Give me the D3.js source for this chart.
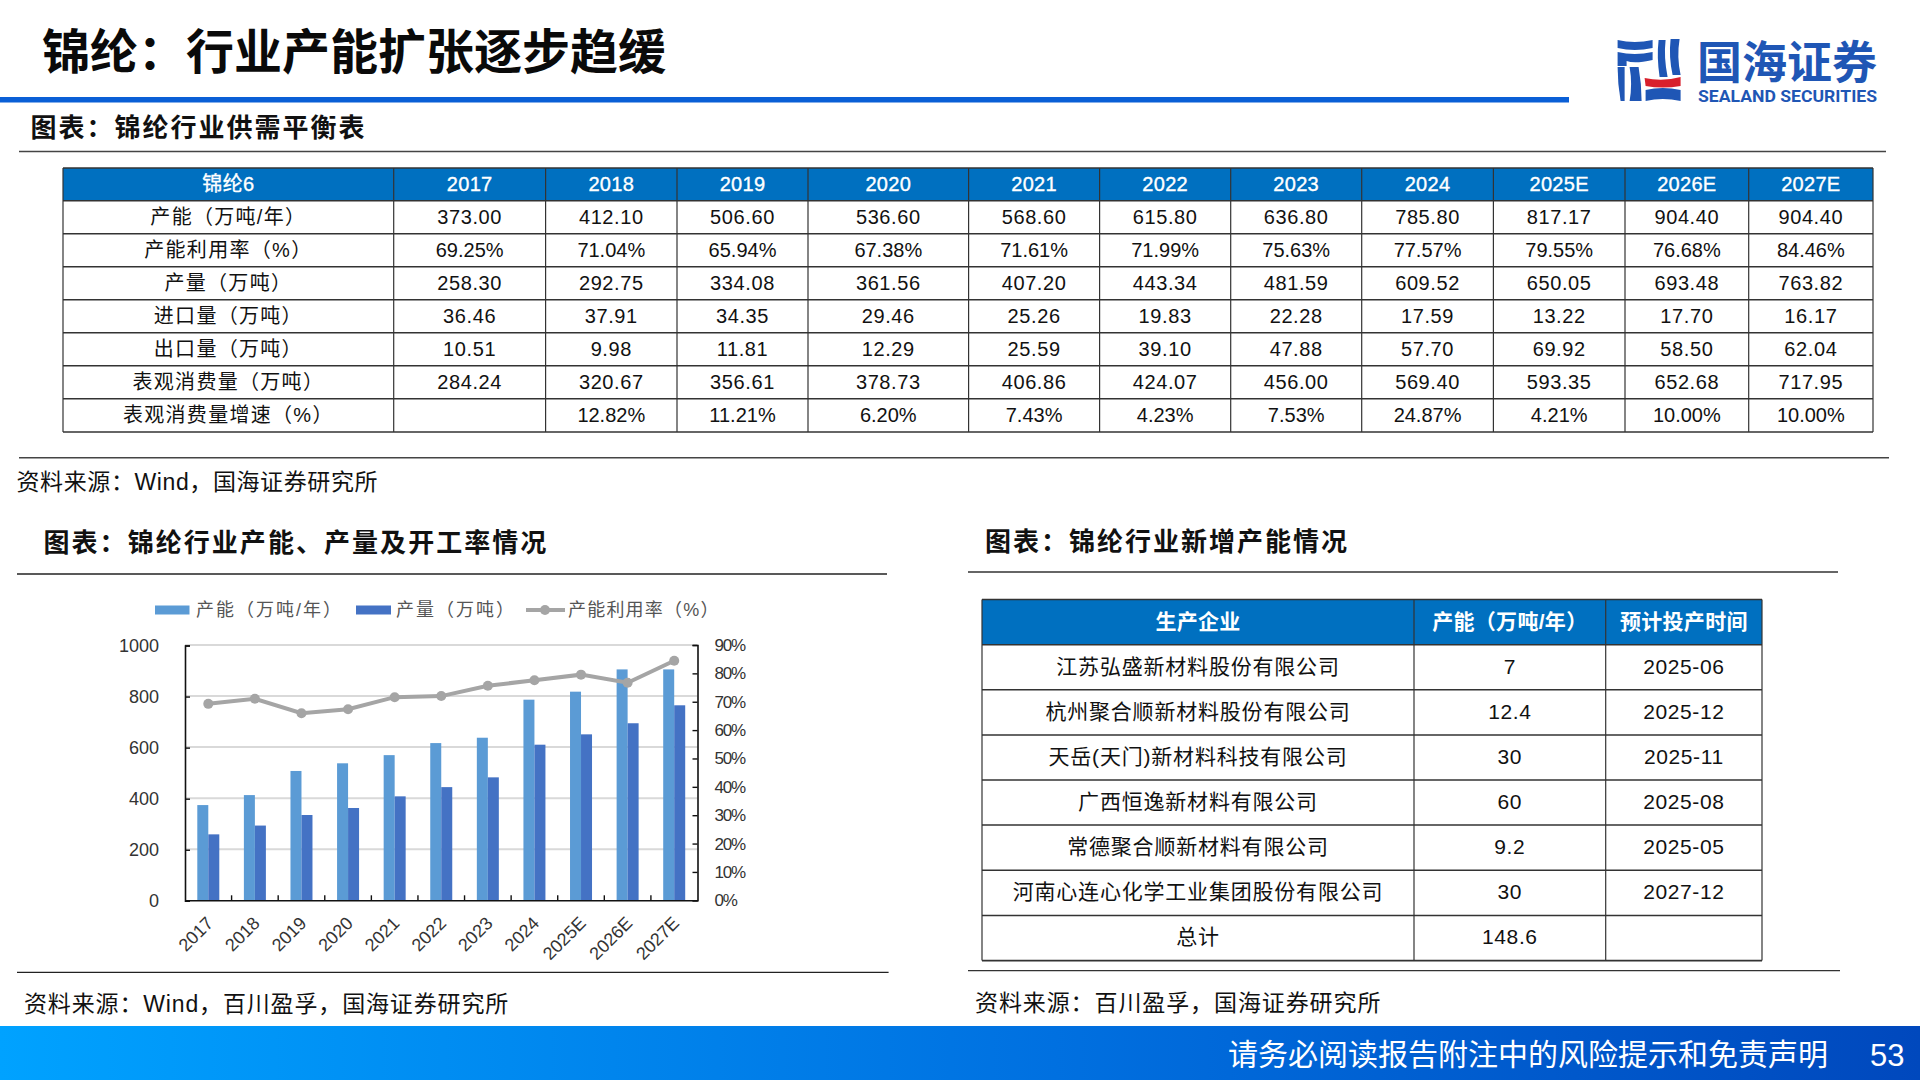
<!DOCTYPE html>
<html>
<head>
<meta charset="utf-8">
<script src="https://cdn.jsdelivr.net/npm/d3@7"></script>
<style>
  html, body { margin: 0; padding: 0; background: #fff; }
  svg { display: block; }
  text { font-family: "Liberation Sans", "Noto Sans CJK SC", sans-serif; }
</style>
</head>
<body>
<svg id="page" width="1920" height="1080"></svg>
<script>
var years = ['2017', '2018', '2019', '2020', '2021', '2022', '2023', '2024', '2025E', '2026E', '2027E'];
var rowNames = ['产能（万吨/年）', '产能利用率（%）', '产量（万吨）', '进口量（万吨）', '出口量（万吨）', '表观消费量（万吨）', '表观消费量增速（%）'];

var capacityText = ['373.00', '412.10', '506.60', '536.60', '568.60', '615.80', '636.80', '785.80', '817.17', '904.40', '904.40'];
var utilText = ['69.25%', '71.04%', '65.94%', '67.38%', '71.61%', '71.99%', '75.63%', '77.57%', '79.55%', '76.68%', '84.46%'];
var outputText = ['258.30', '292.75', '334.08', '361.56', '407.20', '443.34', '481.59', '609.52', '650.05', '693.48', '763.82'];
var importText = ['36.46', '37.91', '34.35', '29.46', '25.26', '19.83', '22.28', '17.59', '13.22', '17.70', '16.17'];
var exportText = ['10.51', '9.98', '11.81', '12.29', '25.59', '39.10', '47.88', '57.70', '69.92', '58.50', '62.04'];
var consumeText = ['284.24', '320.67', '356.61', '378.73', '406.86', '424.07', '456.00', '569.40', '593.35', '652.68', '717.95'];
var growthText = ['', '12.82%', '11.21%', '6.20%', '7.43%', '4.23%', '7.53%', '24.87%', '4.21%', '10.00%', '10.00%'];

var capacity = [373.00, 412.10, 506.60, 536.60, 568.60, 615.80, 636.80, 785.80, 817.17, 904.40, 904.40];
var output = [258.30, 292.75, 334.08, 361.56, 407.20, 443.34, 481.59, 609.52, 650.05, 693.48, 763.82];
var util = [69.25, 71.04, 65.94, 67.38, 71.61, 71.99, 75.63, 77.57, 79.55, 76.68, 84.46];
var leftTicks = [0, 200, 400, 600, 800, 1000];
var rightTicks = [0, 10, 20, 30, 40, 50, 60, 70, 80, 90];
var legendNames = ['产能（万吨/年）', '产量（万吨）', '产能利用率（%）'];

var companies = ['江苏弘盛新材料股份有限公司', '杭州聚合顺新材料股份有限公司', '天岳(天门)新材料科技有限公司', '广西恒逸新材料有限公司', '常德聚合顺新材料有限公司', '河南心连心化学工业集团股份有限公司', '总计'];
var newCapacity = ['7', '12.4', '30', '60', '9.2', '30', '148.6'];
var startDates = ['2025-06', '2025-12', '2025-11', '2025-08', '2025-05', '2027-12', ''];

var BLUE = '#0070c0';
var LINE = '#333';
var svg = d3.select('#page');

function label(x, y, str, size, opts) {
  opts = opts || {};
  return svg.append('text')
    .attr('x', x)
    .attr('y', y)
    .attr('dy', '0.35em')
    .attr('font-size', size)
    .attr('font-weight', opts.weight || 400)
    .attr('fill', opts.fill || '#111')
    .attr('letter-spacing', opts.spacing || 0)
    .attr('text-anchor', opts.anchor || 'start')
    .text(str);
}

function rule(x1, x2, y, color, w) {
  svg.append('line')
    .attr('x1', x1).attr('x2', x2)
    .attr('y1', y).attr('y2', y)
    .attr('stroke', color || '#444')
    .attr('stroke-width', w || 1.5);
}

// header strip and footer
var grad = svg.append('defs').append('linearGradient').attr('id', 'foot');
grad.append('stop').attr('offset', '0%').attr('stop-color', '#00a2ff');
grad.append('stop').attr('offset', '55%').attr('stop-color', '#0070e0');
grad.append('stop').attr('offset', '100%').attr('stop-color', '#0048bd');

label(42, 52, '锦纶：行业产能扩张逐步趋缓', 48, {weight: 700, fill: '#0a0a0a'});
svg.append('rect').attr('x', 0).attr('y', 97).attr('width', 1569).attr('height', 5.5).attr('fill', '#0a5fd6');
svg.append('rect').attr('x', 0).attr('y', 1026).attr('width', 1920).attr('height', 54).attr('fill', 'url(#foot)');
label(1228, 1054, '请务必阅读报告附注中的风险提示和免责声明', 30, {fill: '#fff'});
label(1870, 1055, '53', 31, {fill: '#fff'});

drawLogo(1617.6, 39);

function drawLogo(x, y) {
  var g = svg.append('g').attr('transform', 'translate(' + x + ',' + y + ')').attr('fill', '#1f56b5');
  var blueParts = [
    'M0 1Q17 5 35 1V9Q17 13 0 9Z',
    'M0 13Q17 17 35 13V21Q17 25 9 22V27H0Z',
    'M0 28H7V62H3Q0 45 0 28Z',
    'M12 28H21Q24 45 24 62H12Q15 45 12 28Z',
    'M41 1H48Q46 18 50 38H42Q39 18 41 1Z',
    'M53 0H62Q59 18 63 36H55Q51 18 53 0Z',
    'M28 51Q45 47 63 51V62Q45 58 28 62Z'
  ];
  g.selectAll('path').data(blueParts).enter().append('path').attr('d', function (d) { return d; });
  g.append('path').attr('d', 'M27 39Q45 43 63 38V47Q45 50 28 47Z').attr('fill', '#d8202c');
  svg.append('text').attr('x', 1697).attr('y', 79).attr('font-size', 45).attr('font-weight', 700).attr('fill', '#1f56b5')
    .text('国海证券');
  svg.append('text').attr('x', 1698).attr('y', 101.5).attr('font-size', 17).attr('font-weight', 700).attr('fill', '#1f56b5')
    .attr('textLength', 179).attr('lengthAdjust', 'spacingAndGlyphs')
    .style('font-family', 'Roboto, sans-serif')
    .text('SEALAND SECURITIES');
}

// draws a bordered table, cells come as rows of strings
function drawTable(colX, rowY, header, rows, o) {
  var g = svg.append('g');
  var x0 = colX[0], x1 = colX[colX.length - 1], y0 = rowY[0], y1 = rowY[rowY.length - 1];
  g.append('rect')
    .attr('x', x0).attr('y', y0)
    .attr('width', x1 - x0).attr('height', rowY[1] - y0)
    .attr('fill', BLUE);
  g.selectAll('line.h').data(rowY).enter().append('line')
    .attr('x1', x0).attr('x2', x1)
    .attr('y1', function (d) { return d; }).attr('y2', function (d) { return d; })
    .attr('stroke', LINE).attr('stroke-width', 1.6);
  g.selectAll('line.v').data(colX).enter().append('line')
    .attr('x1', function (d) { return d; }).attr('x2', function (d) { return d; })
    .attr('y1', y0).attr('y2', y1)
    .attr('stroke', LINE).attr('stroke-width', 1.2);
  header.forEach(function (str, i) {
    var t = label((colX[i] + colX[i + 1]) / 2, (rowY[0] + rowY[1]) / 2, str, o.size, {fill: '#fff', weight: o.headWeight, anchor: 'middle', spacing: 0.3});
    if (o.headWeight === 400) {
      t.attr('stroke', '#fff').attr('stroke-width', 0.35);
    }
  });
  rows.forEach(function (cells, r) {
    cells.forEach(function (str, i) {
      var sp = i === 0 ? o.nameSpacing : (/%$/.test(str) ? 0 : o.spacing);
      label((colX[i] + colX[i + 1]) / 2, (rowY[r + 1] + rowY[r + 2]) / 2 + o.shift, str, o.size, {anchor: 'middle', spacing: sp});
    });
  });
}

// supply-demand table
var mainCols = [63, 393.7, 545.6, 677, 808, 968.6, 1099.6, 1230.7, 1361.7, 1493.4, 1625, 1748.7, 1873];
var mainRows = d3.range(8).map(function (i) { return i === 0 ? 168 : 200.7 + (i - 1) * 33; });
mainRows.push(432);
var mainColumns = [capacityText, utilText, outputText, importText, exportText, consumeText, growthText];
drawTable(mainCols, mainRows, ['锦纶6'].concat(years.slice(0, 8)).concat(['2025E', '2026E', '2027E']),
  mainColumns.map(function (vals, r) { return [rowNames[r]].concat(vals); }),
  {size: 20, headWeight: 400, spacing: 0.6, nameSpacing: 1.3, shift: 0});

label(30.5, 128, '图表：锦纶行业供需平衡表', 26, {weight: 700, spacing: 2});
rule(19, 1886, 151.5);
rule(19, 1889, 457.7);
label(16.5, 481.5, '资料来源：Wind，国海证券研究所', 23, {spacing: 0.6});

// new capacity table
var sideCols = [982, 1414, 1605.7, 1762];
var sideRows = [599.5, 644.7, 689.8, 735, 780, 825, 870.3, 915.5, 960.6];
drawTable(sideCols, sideRows, ['生产企业', '产能（万吨/年）', '预计投产时间'],
  companies.map(function (name, i) { return [name, newCapacity[i], startDates[i]]; }),
  {size: 21, headWeight: 700, spacing: 0.6, nameSpacing: 0.8, shift: -1});

label(985, 541.5, '图表：锦纶行业新增产能情况', 26, {weight: 700, spacing: 2});
rule(968, 1838, 572, '#333', 1.3);
rule(968, 1840, 970.6, '#333', 1.3);
label(975, 1002.5, '资料来源：百川盈孚，国海证券研究所', 23, {spacing: 0.9});

// capacity chart
label(43.5, 542.5, '图表：锦纶行业产能、产量及开工率情况', 26, {weight: 700, spacing: 2.05});
rule(17, 887, 574, '#222', 1.4);
rule(17, 888.6, 972.4, '#222', 1.4);
label(24, 1003.5, '资料来源：Wind，百川盈孚，国海证券研究所', 23, {spacing: 0.85});

var plot = {left: 185, right: 697.5, top: 645, bottom: 900.3};
var x = d3.scaleBand().domain(years).range([plot.left, plot.right]);
var yLeft = d3.scaleLinear().domain([0, 1000]).range([plot.bottom, plot.top]);
var yRight = d3.scaleLinear().domain([0, 90]).range([plot.bottom, plot.top]);
var barW = 11;
var chart = svg.append('g');

chart.append('g').selectAll('line').data(leftTicks.slice(1)).enter().append('line')
  .attr('x1', plot.left).attr('x2', plot.right)
  .attr('y1', function (d) { return yLeft(d); }).attr('y2', function (d) { return yLeft(d); })
  .attr('stroke', '#d9d9d9').attr('stroke-width', 2);

chart.selectAll('rect.cap').data(capacity).enter().append('rect')
  .attr('x', function (d, i) { return x(years[i]) + x.bandwidth() / 2 - barW; })
  .attr('y', function (d) { return yLeft(d); })
  .attr('width', barW)
  .attr('height', function (d) { return plot.bottom - yLeft(d); })
  .attr('fill', '#5b9bd5');
chart.selectAll('rect.out').data(output).enter().append('rect')
  .attr('x', function (d, i) { return x(years[i]) + x.bandwidth() / 2; })
  .attr('y', function (d) { return yLeft(d); })
  .attr('width', barW)
  .attr('height', function (d) { return plot.bottom - yLeft(d); })
  .attr('fill', '#4472c4');

var line = d3.line()
  .x(function (d, i) { return x(years[i]) + x.bandwidth() / 2; })
  .y(function (d) { return yRight(d); });
chart.append('path').datum(util)
  .attr('d', line)
  .attr('fill', 'none')
  .attr('stroke', '#a5a5a5')
  .attr('stroke-width', 4);
chart.selectAll('circle').data(util).enter().append('circle')
  .attr('cx', function (d, i) { return x(years[i]) + x.bandwidth() / 2; })
  .attr('cy', function (d) { return yRight(d); })
  .attr('r', 5)
  .attr('fill', '#a5a5a5');

var axisL = d3.axisLeft(yLeft).tickValues(leftTicks).tickSize(-5).tickPadding(26)
  .tickFormat(function (d) { return String(d); });
var axisR = d3.axisRight(yRight).tickValues(rightTicks).tickSize(-5).tickPadding(17)
  .tickFormat(function (d) { return d + '%'; });
var axisB = d3.axisBottom(x).tickSize(0).tickPadding(0);

function styleAxis(g) {
  g.select('.domain').attr('stroke', '#111').attr('stroke-width', 1.6);
  g.selectAll('.tick line').attr('stroke', '#111').attr('stroke-width', 1.4);
  g.selectAll('text').attr('font-size', 18).attr('fill', '#333').style('font-family', '"Liberation Sans", sans-serif');
}

var gL = chart.append('g').attr('transform', 'translate(' + plot.left + ',0.5)').call(axisL).call(styleAxis);
var gR = chart.append('g').attr('transform', 'translate(' + plot.right + ',0)').call(axisR).call(styleAxis);
gR.selectAll('text').attr('font-size', 17).attr('letter-spacing', -1.2);
var gB = chart.append('g').attr('transform', 'translate(0,' + plot.bottom + ')').call(axisB).call(styleAxis);
gB.selectAll('.tick text')
  .attr('text-anchor', 'end')
  .attr('dy', 0)
  .attr('y', 0)
  .attr('transform', 'translate(6,24) rotate(-45)');
// x ticks sit on the band edges
gB.selectAll('line.edge').data(years.slice(1)).enter().append('line')
  .attr('x1', function (d) { return x(d); }).attr('x2', function (d) { return x(d); })
  .attr('y1', 0).attr('y2', -5)
  .attr('stroke', '#111').attr('stroke-width', 1.4);

// legend
svg.append('rect').attr('x', 155).attr('y', 605.5).attr('width', 34.5).attr('height', 9).attr('fill', '#5b9bd5');
svg.append('rect').attr('x', 356).attr('y', 605.5).attr('width', 35).attr('height', 9).attr('fill', '#4472c4');
svg.append('line').attr('x1', 526).attr('x2', 565).attr('y1', 610).attr('y2', 610).attr('stroke', '#a5a5a5').attr('stroke-width', 4);
svg.append('circle').attr('cx', 545).attr('cy', 610).attr('r', 5).attr('fill', '#a5a5a5');
var legendX = [196, 396, 568];
var legendSpacing = [2, 2, 1.2];
legendNames.forEach(function (name, i) {
  label(legendX[i], 610, name, 18, {fill: '#555', spacing: legendSpacing[i]});
});
</script>
</body>
</html>
